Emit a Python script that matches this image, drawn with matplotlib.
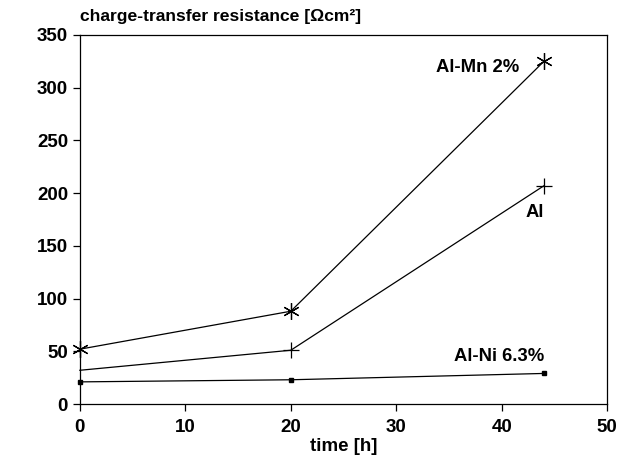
import matplotlib
matplotlib.use("Agg")
import matplotlib.pyplot as plt

## Data
time_h   = [0, 20, 44]
al_mn    = [52, 88, 325]
al       = [32, 51, 207]
al_ni    = [21, 23, 29]
xticks   = [0, 10, 20, 30, 40, 50]
yticks   = [0, 50, 100, 150, 200, 250, 300, 350]

plt.rcParams['font.family'] = ['Liberation Sans', 'DejaVu Sans']
plt.rcParams['font.weight'] = 'bold'

fig = plt.figure( figsize = (6.19,4.66) , dpi = 100 )
ax  = fig.add_axes( [0.129, 0.133, 0.852, 0.792] )

## Lines
ax.plot( time_h , al_mn , color = "black" , lw = 0.9 , marker = (6,2,0) , ms = 12 , mew = 0.9 , clip_on = False )
ax.plot( time_h[1:] , al[1:] , color = "black" , lw = 0.9 , marker = "+" , ms = 12 , mew = 0.9 , ls = "none" , clip_on = False )
ax.plot( time_h , al , color = "black" , lw = 0.9 , clip_on = False )
ax.plot( time_h , al_ni , color = "black" , lw = 0.9 , marker = "s" , ms = 3 , clip_on = False )

## Labels on curves
ax.text( 41.7 , 319 , "Al-Mn 2%" , ha = "right" , va = "center" , fontsize = 13.3 , fontweight = "bold" )
ax.text( 42.3 , 182 , "Al" , ha = "left" , va = "center" , fontsize = 13.3 , fontweight = "bold" )
ax.text( 44.0 , 45 , "Al-Ni 6.3%" , ha = "right" , va = "center" , fontsize = 13.3 , fontweight = "bold" )

## Axes
ax.set_xlim( 0 , 50 )
ax.set_ylim( 0 , 350 )
ax.set_xticks( xticks )
ax.set_yticks( yticks )
ax.tick_params( direction = "out" , length = 5 , width = 0.9 , labelsize = 13.5 )
ax.tick_params( axis = "x" , pad = 6 )
for lab in ax.get_xticklabels() + ax.get_yticklabels():
	lab.set_fontweight("bold")
for sp in ax.spines.values():
	sp.set_linewidth(0.9)

ax.set_xlabel( "time [h]" , fontsize = 13.5 , fontweight = "bold" , labelpad = 1 )
fig.text( 0.129 , 0.965 , "charge-transfer resistance [Ωcm²]" , ha = "left" , va = "center" , fontsize = 12.6 , fontweight = "bold" )

fig.savefig( "out.png" , dpi = 100 )
plt.close(fig)
